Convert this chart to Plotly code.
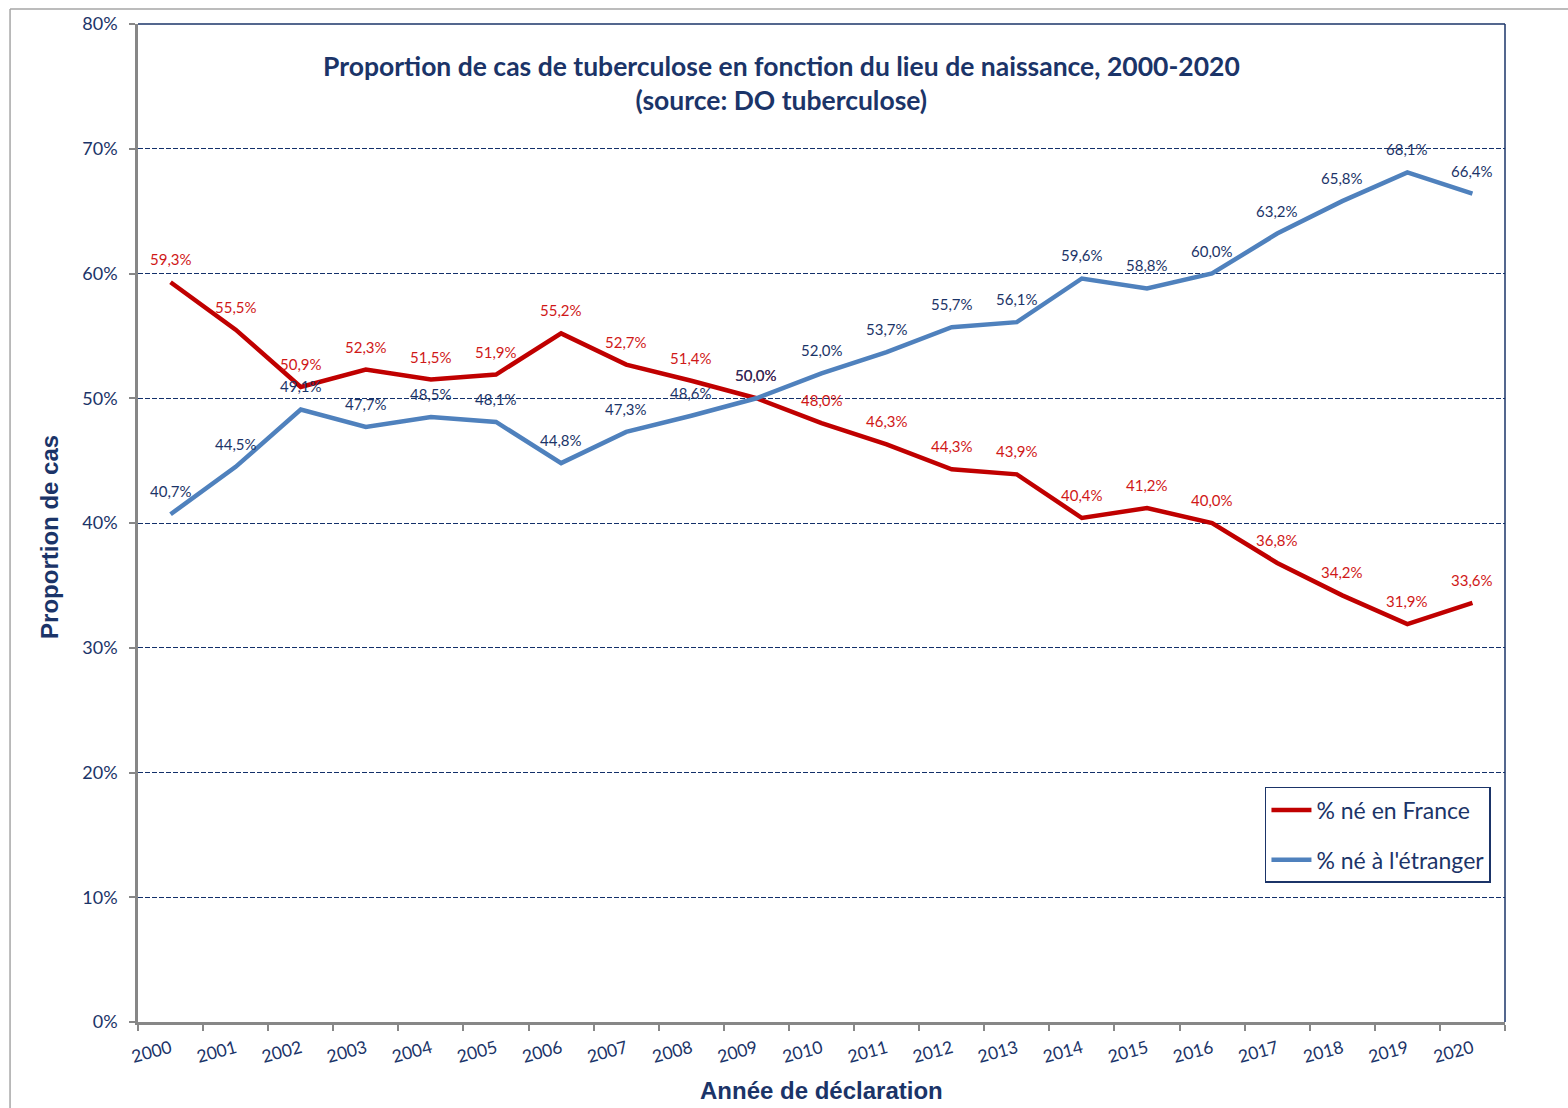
import plotly.graph_objects as go

years = [str(y) for y in range(2000, 2021)]
ne_france = [59.3, 55.5, 50.9, 52.3, 51.5, 51.9, 55.2, 52.7, 51.4, 50.0, 48.0,
             46.3, 44.3, 43.9, 40.4, 41.2, 40.0, 36.8, 34.2, 31.9, 33.6]
ne_etranger = [40.7, 44.5, 49.1, 47.7, 48.5, 48.1, 44.8, 47.3, 48.6, 50.0, 52.0,
               53.7, 55.7, 56.1, 59.6, 58.8, 60.0, 63.2, 65.8, 68.1, 66.4]
y_ticks = [0, 0.1, 0.2, 0.3, 0.4, 0.5, 0.6, 0.7, 0.8]

NAVY = "#1B3468"
RED = "#C00000"
BLUE = "#4F81BD"
GRAY = "#878787"
FONT = "Lato"


def fmt(v):
    return f"{v:.1f}".replace(".", ",") + "%"


fig = go.Figure()
fig.add_trace(go.Scatter(
    x=years, y=[v / 100 for v in ne_france], mode="lines", name="% né en France",
    line=dict(color=RED, width=4.5), legendgroup="a"))
fig.add_trace(go.Scatter(
    x=years, y=[v / 100 for v in ne_etranger], mode="lines", name="% né à l'étranger",
    line=dict(color=BLUE, width=4.5), legendgroup="b"))

annotations = []
for i, v in enumerate(ne_france):
    annotations.append(dict(x=i, y=v / 100, xref="x", yref="y", text=fmt(v),
                            showarrow=False, yshift=23, xanchor="center", yanchor="middle",
                            font=dict(family=FONT, size=15, color="#D01818")))
for i, v in enumerate(ne_etranger):
    annotations.append(dict(x=i, y=v / 100, xref="x", yref="y", text=fmt(v),
                            showarrow=False, yshift=23, xanchor="center", yanchor="middle",
                            font=dict(family=FONT, size=15, color=NAVY)))

annotations.append(dict(
    x=0.471, y=0.941, xref="paper", yref="paper", showarrow=False,
    xanchor="center", yanchor="middle",
    text="<b>Proportion de cas de tuberculose en fonction du lieu de naissance, 2000-2020</b><br><b>(source: DO tuberculose)</b>",
    font=dict(family=FONT, size=26.5, color=NAVY), align="center"))
annotations.append(dict(
    x=-0.0644, y=0.486, xref="paper", yref="paper", showarrow=False, textangle=-90,
    xanchor="center", yanchor="middle",
    text="<b>Proportion de cas</b>",
    font=dict(family="Liberation Sans", size=24, color=NAVY)))
annotations.append(dict(
    x=0.5, y=-0.069, xref="paper", yref="paper", showarrow=False,
    xanchor="center", yanchor="middle",
    text="<b>Année de déclaration</b>",
    font=dict(family="Liberation Sans", size=24, color=NAVY)))

shapes = [
    dict(type="line", xref="paper", yref="paper", x0=0, x1=1, y0=1, y1=1,
         line=dict(color=NAVY, width=1.5), layer="below"),
    dict(type="line", xref="paper", yref="paper", x0=1, x1=1, y0=0, y1=1,
         line=dict(color=NAVY, width=1.5), layer="below"),
    dict(type="line", xref="paper", yref="paper", x0=-0.0936, x1=1.1, y0=1.015, y1=1.015,
         line=dict(color="#A6A6A6", width=1.5)),
    dict(type="line", xref="paper", yref="paper", x0=-0.0936, x1=-0.0936, y0=-0.1, y1=1.015,
         line=dict(color="#A6A6A6", width=1.5)),
]

fig.update_layout(
    width=1568, height=1108,
    margin=dict(l=138, r=63, t=24, b=86),
    paper_bgcolor="white", plot_bgcolor="white",
    showlegend=True,
    legend=dict(x=0.8244, y=0.2355, xanchor="left", yanchor="top",
                bordercolor=NAVY, borderwidth=1.5, bgcolor="white",
                font=dict(family=FONT, size=23, color=NAVY),
                tracegroupgap=17, traceorder="grouped",
                itemwidth=40),
    annotations=annotations,
    shapes=shapes,
    xaxis=dict(type="category", tickson="boundaries", ticks="outside",
               ticklen=6, tickcolor=GRAY, tickwidth=2,
               showline=True, linecolor=GRAY, linewidth=2.5,
               showgrid=False, tickangle=-15, ticklabelstandoff=7,
               tickfont=dict(family=FONT, size=17.5, color=NAVY),
               range=[-0.5, 20.5]),
    yaxis=dict(range=[0, 0.8], tickvals=y_ticks, tickformat=".0%",
               ticks="outside", ticklen=6, tickcolor=GRAY, tickwidth=2,
               showline=True, linecolor=GRAY, linewidth=2.5,
               showgrid=True, gridcolor="#13306A", gridwidth=1.2, griddash="5px,2px",
               zeroline=False, ticklabelstandoff=8,
               tickfont=dict(family=FONT, size=18, color=NAVY)),
)

fig.write_html("out.html", config={"displayModeBar": False},
               post_script="document.body.style.margin='0px';")
